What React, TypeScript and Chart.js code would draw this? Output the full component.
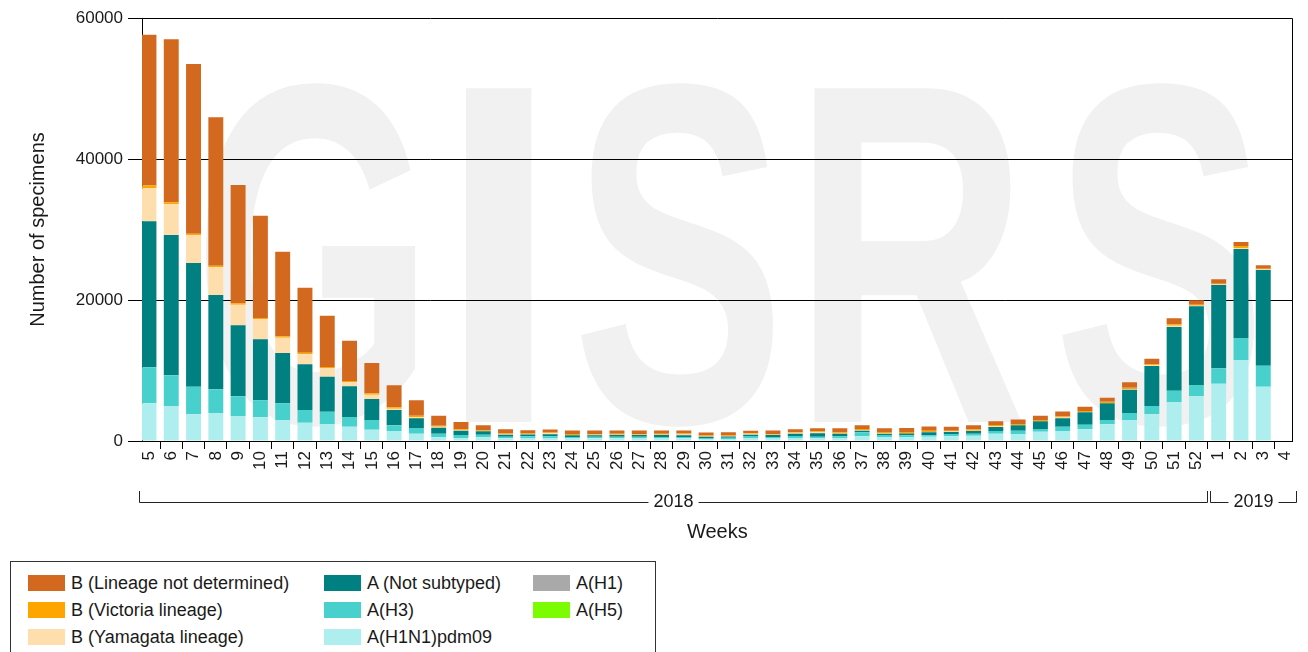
import React, { useEffect, useRef } from 'react';
import { Chart, registerables } from 'chart.js';

Chart.register(...registerables);

const weekLabels = [
  '5', '6', '7', '8', '9', '10', '11', '12', '13', '14',
  '15', '16', '17', '18', '19', '20', '21', '22', '23', '24',
  '25', '26', '27', '28', '29', '30', '31', '32', '33', '34',
  '35', '36', '37', '38', '39', '40', '41', '42', '43', '44',
  '45', '46', '47', '48', '49', '50', '51', '52',
  '1', '2', '3', '4',
];

const yearLabels = ['2018', '2019'];
const yearFirstIndex = [0, 48];
const yearLastIndex = [47, 51];

const yTickValues = [0, 20000, 40000, 60000];

const aH1N1pdm09 = [
  5350, 4960, 3780, 3970, 3550, 3360, 2980, 2600, 2410, 2030,
  1610, 1420, 1040, 520, 430, 520, 380, 430, 430, 380,
  400, 390, 410, 410, 400, 280, 300, 430, 370, 430,
  380, 380, 660, 570, 570, 610, 660, 760, 1040, 990,
  1320, 1420, 1680, 2370, 2980, 3780, 5530, 6340,
  8130, 11490, 7700, 0,
];

const aH3 = [
  5100, 4360, 3920, 3360, 2790, 2410, 2370, 1800, 1750, 1370,
  1370, 810, 800, 520, 430, 380, 240, 240, 240, 190,
  190, 200, 180, 170, 160, 140, 150, 280, 190, 280,
  240, 280, 570, 280, 240, 190, 330, 280, 380, 470,
  380, 610, 640, 610, 990, 1180, 1610, 1600,
  2180, 3120, 2980, 0,
];

const aNotSubtyped = [
  20710, 19900, 17550, 13380, 10070, 8650, 7130, 6480, 4970, 4350,
  2980, 2170, 1380, 850, 610, 470, 280, 240, 280, 240,
  240, 260, 250, 270, 260, 190, 200, 190, 280, 330,
  470, 380, 240, 190, 240, 430, 280, 380, 570, 760,
  1090, 1180, 1750, 2370, 3310, 5680, 9030, 11160,
  11820, 12620, 13580, 0,
];

const aH1 = [
  0, 0, 0, 0, 0, 0, 0, 0, 0, 0,
  0, 0, 0, 0, 0, 0, 0, 0, 0, 0,
  0, 0, 0, 0, 0, 0, 0, 0, 0, 0,
  0, 0, 0, 0, 0, 0, 0, 0, 0, 0,
  0, 0, 0, 0, 0, 0, 0, 0,
  0, 0, 0, 0,
];

const aH5 = [
  0, 0, 0, 0, 0, 0, 0, 0, 0, 0,
  0, 0, 0, 0, 0, 0, 0, 0, 0, 0,
  0, 0, 0, 0, 0, 0, 0, 0, 0, 0,
  0, 0, 0, 0, 0, 0, 0, 0, 0, 0,
  0, 0, 0, 0, 0, 0, 0, 0,
  0, 0, 0, 0,
];

const bYamagata = [
  4700, 4350, 3970, 3970, 2930, 2840, 2180, 1410, 1180, 570,
  610, 190, 180, 140, 60, 50, 40, 30, 140, 30,
  40, 50, 40, 40, 90, 30, 40, 130, 30, 120,
  140, 20, 50, 95, 30, 30, 90, 30, 140, 40,
  50, 140, 50, 50, 100, 100, 180, 100,
  80, 150, 80, 0,
];

const bVictoria = [
  370, 300, 190, 190, 190, 190, 190, 240, 190, 190,
  190, 190, 190, 140, 140, 100, 140, 140, 100, 140,
  140, 120, 130, 130, 140, 140, 120, 110, 140, 120,
  140, 190, 190, 140, 190, 190, 100, 190, 140, 140,
  140, 140, 140, 180, 180, 140, 200, 140,
  100, 280, 100, 0,
];

const bNotDetermined = [
  21380, 23110, 24070, 21040, 16780, 14510, 12000, 9220, 7280, 5720,
  4300, 3120, 2180, 1420, 1040, 710, 570, 430, 430, 520,
  480, 470, 490, 480, 430, 430, 420, 330, 470, 380,
  430, 570, 520, 520, 570, 610, 570, 610, 520, 660,
  610, 710, 610, 560, 760, 790, 850, 620,
  620, 570, 480, 0,
];

const FONT = "'Liberation Sans', Arial, Helvetica, sans-serif";
const TEXT = '#1a1a1a';

// stacking order bottom -> top
const series = [
  { label: 'A(H1N1)pdm09', data: aH1N1pdm09, color: '#AFEEEE' },
  { label: 'A(H3)', data: aH3, color: '#48D1CC' },
  { label: 'A (Not subtyped)', data: aNotSubtyped, color: '#008080' },
  { label: 'A(H1)', data: aH1, color: '#A9A9A9' },
  { label: 'A(H5)', data: aH5, color: '#7CFC00' },
  { label: 'B (Yamagata lineage)', data: bYamagata, color: '#FFDEAD' },
  { label: 'B (Victoria lineage)', data: bVictoria, color: '#FFA500' },
  { label: 'B (Lineage not determined)', data: bNotDetermined, color: '#D2691E' },
];

// legend layout (columns of labels as in the reference)
const legendColumns = [
  ['B (Lineage not determined)', 'B (Victoria lineage)', 'B (Yamagata lineage)'],
  ['A (Not subtyped)', 'A(H3)', 'A(H1N1)pdm09'],
  ['A(H1)', 'A(H5)'],
];

const watermarkText = 'GISRS';

const watermarkPlugin = {
  id: 'watermark',
  beforeDraw(chart: any) {
    const ctx = chart.ctx;
    // ink extents [left, right] of each watermark letter
    const boxes = [
      [203, 416],
      [464, 535],
      [577, 777],
      [813, 1022],
      [1058, 1258],
    ];
    const baseline = 422;
    ctx.save();
    ctx.fillStyle = '#f1f1f1';
    ctx.font = `bold 485px ${FONT}`;
    ctx.textBaseline = 'alphabetic';
    ctx.textAlign = 'left';
    watermarkText.split('').forEach((ch, i) => {
      const m = ctx.measureText(ch);
      const inkLeft = -m.actualBoundingBoxLeft;
      const inkRight = m.actualBoundingBoxRight;
      const inkW = Math.max(1, inkRight - inkLeft);
      const [x0, x1] = boxes[i];
      const sx = (x1 - x0) / inkW;
      ctx.save();
      ctx.translate(x0, baseline);
      ctx.scale(sx, 1);
      ctx.fillText(ch, -inkLeft, 0);
      ctx.restore();
    });
    ctx.restore();
  },
};

const framePlugin = {
  id: 'frame',
  afterDraw(chart: any) {
    const ctx = chart.ctx;
    const area = chart.chartArea;
    const xs = chart.scales.x;
    ctx.save();
    // right border
    ctx.strokeStyle = '#000';
    ctx.lineWidth = 1;
    ctx.beginPath();
    const rx = Math.round(area.right) - 0.5;
    ctx.moveTo(rx, Math.round(area.top) + 0.5);
    ctx.lineTo(rx, Math.round(area.bottom) + 0.5);
    ctx.stroke();

    // year brackets
    const yLine = 502.5;
    const yTop = 491;
    ctx.strokeStyle = '#222';
    ctx.fillStyle = TEXT;
    ctx.font = `18px ${FONT}`;
    ctx.textAlign = 'center';
    ctx.textBaseline = 'middle';
    yearLabels.forEach((lab, k) => {
      const x1 = Math.round(xs.getPixelForValue(yearFirstIndex[k] - 0.5) + (k === 0 ? 1 : 2)) + 0.5;
      const x2 = Math.round(xs.getPixelForValue(yearLastIndex[k] + 0.5) - 1) + 0.5;
      const cx = (x1 + x2) / 2;
      const w = ctx.measureText(lab).width;
      ctx.beginPath();
      ctx.moveTo(x1, yTop);
      ctx.lineTo(x1, yLine);
      ctx.lineTo(cx - w / 2 - 5, yLine);
      ctx.moveTo(cx + w / 2 + 5, yLine);
      ctx.lineTo(x2, yLine);
      ctx.lineTo(x2, yTop);
      ctx.stroke();
      ctx.fillText(lab, cx, yLine);
    });
    ctx.restore();
  },
};

function Legend() {
  const colLeft = [27, 323, 532];
  const rowTop = [574, 601, 628];
  const colorOf: Record<string, string> = {};
  series.forEach((s) => (colorOf[s.label] = s.color));
  return (
    <div
      style={{
        position: 'absolute',
        left: 10,
        top: 561,
        width: 646,
        height: 120,
        border: '1px solid #333',
        boxSizing: 'border-box',
        background: '#fff',
      }}
    >
      {legendColumns.map((col, ci) =>
        col.map((label, ri) => (
          <div
            key={label}
            style={{
              position: 'absolute',
              left: colLeft[ci] - 10,
              top: rowTop[ri] - 561,
              height: 16,
              display: 'flex',
              alignItems: 'center',
              whiteSpace: 'nowrap',
            }}
          >
            <span
              style={{
                display: 'inline-block',
                width: 37,
                height: 16,
                background: colorOf[label],
                marginRight: 6,
              }}
            />
            <span style={{ fontFamily: FONT, fontSize: 18, color: TEXT, lineHeight: '16px' }}>{label}</span>
          </div>
        ))
      )}
    </div>
  );
}

export default function App() {
  const canvasRef = useRef<HTMLCanvasElement | null>(null);

  useEffect(() => {
    if (!canvasRef.current) return;
    Chart.defaults.font.family = FONT;
    Chart.defaults.color = TEXT;
    const chart = new Chart(canvasRef.current, {
      type: 'bar',
      data: {
        datasets: series.map((s) => ({
          label: s.label,
          data: s.data.map((v, i) => ({ x: i, y: v })),
          backgroundColor: s.color,
          borderWidth: 0,
          barPercentage: 0.67,
          categoryPercentage: 1,
        })),
      },
      options: {
        responsive: false,
        animation: false,
        devicePixelRatio: 1,
        layout: { padding: { top: 18, right: 8, bottom: 0, left: 0 } },
        plugins: {
          legend: { display: false },
          tooltip: { enabled: false },
        },
        scales: {
          x: {
            type: 'linear',
            stacked: true,
            min: -0.3125,
            max: 51.3125,
            offset: false,
            grid: {
              drawOnChartArea: false,
              drawTicks: true,
              tickLength: 8,
              color: '#000',
            },
            border: { color: '#000', width: 1 },
            ticks: {
              stepSize: 1,
              autoSkip: false,
              includeBounds: false,
              minRotation: 90,
              maxRotation: 90,
              padding: 2,
              color: TEXT,
              font: { size: 17, family: FONT },
              callback: (value: any) => {
                const lab = weekLabels[Number(value)];
                return lab === undefined ? '' : lab;
              },
            },
            title: {
              display: true,
              text: 'Weeks',
              color: TEXT,
              font: { size: 20, family: FONT },
              padding: { top: 0, bottom: 108 },
            },
            afterFit: (s: any) => {
              s.height = 211;
            },
          },
          y: {
            type: 'linear',
            stacked: true,
            min: 0,
            max: 60000,
            grid: {
              color: '#000',
              lineWidth: 1,
              drawTicks: true,
              tickLength: 14,
            },
            border: { color: '#000', width: 1 },
            afterBuildTicks: (s: any) => {
              s.ticks = yTickValues.map((v) => ({ value: v }));
            },
            ticks: {
              padding: 5,
              color: TEXT,
              font: { size: 17, family: FONT },
              callback: (value: any) => String(value),
            },
            title: {
              display: true,
              text: 'Number of specimens',
              color: TEXT,
              font: { size: 20, family: FONT },
              padding: { top: 26, bottom: 0 },
            },
            afterFit: (s: any) => {
              s.width = 142;
            },
          },
        },
      },
      plugins: [watermarkPlugin, framePlugin],
    } as any);
    return () => chart.destroy();
  }, []);

  return (
    <div
      style={{
        position: 'fixed',
        left: 0,
        top: 0,
        width: 1308,
        height: 652,
        overflow: 'hidden',
        background: '#fff',
      }}
    >
      <canvas ref={canvasRef} width={1308} height={652} style={{ display: 'block' }} />
      <Legend />
    </div>
  );
}
